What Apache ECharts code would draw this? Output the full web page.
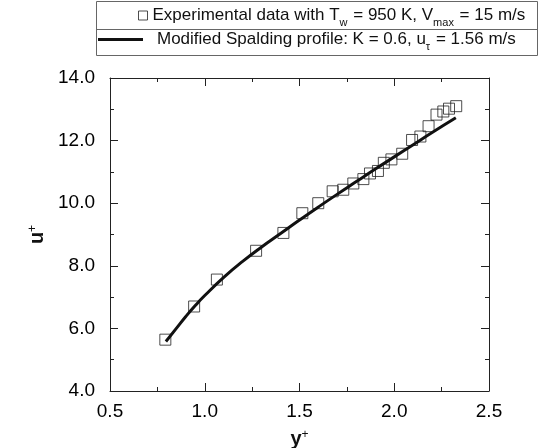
<!DOCTYPE html>
<html>
<head>
<meta charset="utf-8">
<script src="https://cdn.jsdelivr.net/npm/echarts@6/dist/echarts.min.js"></script>
<style>
  html, body { margin: 0; padding: 0; background: #fff; }
  #chart { width: 551px; height: 448px; }
</style>
</head>
<body>
<div id="chart"></div>
<script>
// experimental points (y+, u+)
const expYPlus = [0.792, 0.944, 1.064, 1.271, 1.415, 1.515, 1.599, 1.675, 1.731, 1.784, 1.837, 1.872,
    1.914, 1.945, 1.985, 2.042, 2.094, 2.138, 2.181, 2.223, 2.259, 2.289, 2.327]
const expUPlus = [5.64, 6.70, 7.56, 8.48, 9.05, 9.68, 10.0, 10.38, 10.43, 10.63, 10.77, 10.95,
    11.03, 11.29, 11.40, 11.58, 12.02, 12.13, 12.46, 12.83, 12.93, 13.02, 13.10]

// modified Spalding profile
const fitYPlus = [0.795, 0.85, 0.9, 0.95, 1.0, 1.1, 1.2, 1.3, 1.4, 1.5, 1.6, 1.7, 1.8, 1.9, 2.0, 2.1, 2.2, 2.325]
const fitUPlus = [5.58, 6.0, 6.38, 6.73, 7.05, 7.63, 8.14, 8.6, 9.03, 9.46, 9.88, 10.29, 10.69, 11.09, 11.48, 11.87, 12.26, 12.73]

const xRange = [0.5, 2.5, 0.5]   // min, max, interval
const yRange = [4, 14, 2]

const font = 'Liberation Sans, Arial, sans-serif'

const legendRich = {
    t: { fontSize: 17, fontFamily: font, color: '#111', lineHeight: 19 },
    p: { fontSize: 17, fontFamily: font, color: '#111', lineHeight: 19, padding: [0, 0, 0, 9] },
    s: { fontSize: 11, fontFamily: font, color: '#111', lineHeight: 11, verticalAlign: 'bottom', padding: [0, 1, -3, 0] }
}

const legendText = {
    exp: '{t|Experimental data with T}{s|w}{t| = 950 K, V}{s|max}{t| = 15 m/s}',
    fit: '{p|Modified Spalding profile: K = 0.6, u}{s|τ}{t| = 1.56 m/s}'
}

const makeX = (position, showLabel) => ({
    type: 'value',
    position,
    min: xRange[0],
    max: xRange[1],
    interval: xRange[2],
    axisLine: { show: true, onZero: false, lineStyle: { color: '#222', width: 1 } },
    axisTick: { show: true, inside: true, length: 8, lineStyle: { color: '#222' } },
    minorTick: { show: true, splitNumber: 2, length: 4, lineStyle: { color: '#222' } },
    splitLine: { show: false },
    axisLabel: {
        show: showLabel, margin: 11, color: '#000', fontSize: 19, fontFamily: font,
        formatter: v => v.toFixed(1)
    }
})

const makeY = (position, showLabel) => ({
    type: 'value',
    position,
    min: yRange[0],
    max: yRange[1],
    interval: yRange[2],
    axisLine: { show: true, onZero: false, lineStyle: { color: '#222', width: 1 } },
    axisTick: { show: true, inside: true, length: 8, lineStyle: { color: '#222' } },
    minorTick: { show: true, splitNumber: 2, length: 4, lineStyle: { color: '#222' } },
    splitLine: { show: false },
    axisLabel: {
        show: showLabel, margin: 15, color: '#000', fontSize: 19, fontFamily: font,
        formatter: v => v.toFixed(1)
    }
})

const chart = echarts.init(document.getElementById('chart'), null, { renderer: 'canvas' })

const nameStyle = {
    rich: {
        b: { fontSize: 20, fontFamily: font, color: '#111', fontWeight: 'bold' },
        s: { fontSize: 12, fontFamily: font, color: '#111', verticalAlign: 'top', padding: [0, 0, 6, 0] }
    }
}

const xMain = makeX('bottom', true)
xMain.name = '{b|y}{s|+}'
xMain.nameLocation = 'middle'
xMain.nameGap = 38
xMain.nameTextStyle = nameStyle

const yMain = makeY('left', true)
yMain.name = '{b|u}{s|+}'
yMain.nameLocation = 'middle'
yMain.nameGap = 58
yMain.nameTextStyle = nameStyle

const option = {
    animation: false,
    backgroundColor: '#fff',
    grid: {
        left: 110, right: 62, top: 78, bottom: 57,
        containLabel: false, outerBoundsMode: 'none'
    },
    legend: [
        {
            data: ['exp'],
            left: 138, top: 7, padding: 0,
            itemWidth: 9, itemHeight: 9, icon: 'rect',
            itemStyle: { color: 'rgba(0,0,0,0)', borderColor: '#222', borderWidth: 1 },
            formatter: name => legendText[name],
            textStyle: { rich: legendRich },
            selectedMode: false
        },
        {
            data: ['fit'],
            left: 98, top: 31, padding: 0,
            itemWidth: 45, itemHeight: 3,
            icon: 'path://M0,0 L45,0 L45,3 L0,3 Z',
            itemStyle: { color: '#111', borderWidth: 0 },
            formatter: name => legendText[name],
            textStyle: { rich: legendRich },
            selectedMode: false
        }
    ],
    graphic: [
        { type: 'rect', shape: { x: 96.5, y: 1.5, width: 441, height: 54 }, style: { fill: 'none', stroke: '#666', lineWidth: 1 }, silent: true },
        { type: 'line', shape: { x1: 96.5, y1: 29.5, x2: 537.5, y2: 29.5 }, style: { stroke: '#666', lineWidth: 1 }, silent: true }
    ],
    xAxis: [xMain, makeX('top', false)],
    yAxis: [yMain, makeY('right', false)],
    series: [
        {
            name: 'exp',
            type: 'scatter',
            symbol: 'rect',
            symbolSize: 11,
            itemStyle: { color: 'rgba(0,0,0,0)', borderColor: '#222', borderWidth: 1 },
            data: expYPlus.map((x, i) => [x, expUPlus[i]]),
            z: 2
        },
        {
            name: 'fit',
            type: 'line',
            smooth: true,
            symbol: 'none',
            showSymbol: false,
            lineStyle: { color: '#111', width: 3 },
            itemStyle: { color: '#111' },
            data: fitYPlus.map((x, i) => [x, fitUPlus[i]]),
            z: 3
        }
    ]
}

chart.setOption(option)
</script>
</body>
</html>
